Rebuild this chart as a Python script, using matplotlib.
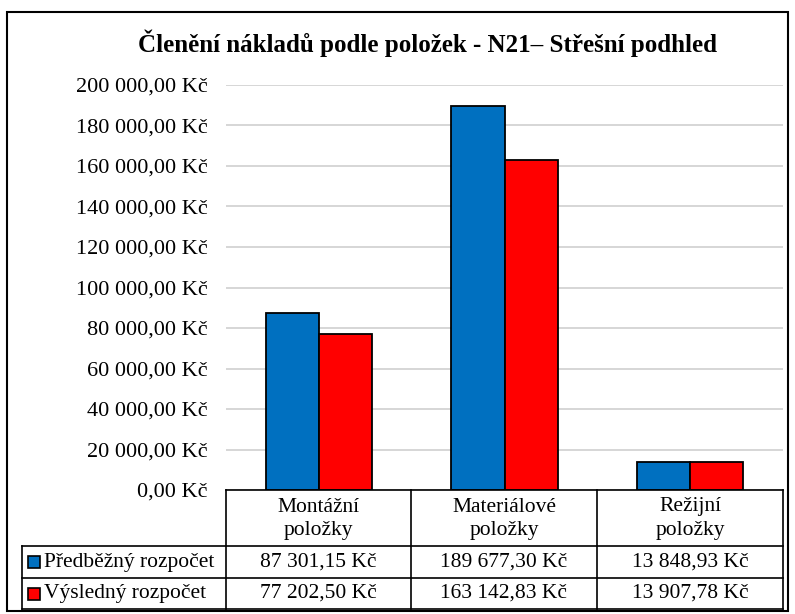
import matplotlib.pyplot as plt
import numpy as np
from matplotlib.patches import Rectangle
from matplotlib.lines import Line2D

plt.rcParams['font.family'] = ['Liberation Serif', 'DejaVu Serif']

categories = ['Montážní\npoložky', 'Materiálové\npoložky', 'Režijní\npoložky']
series_names = ['Předběžný rozpočet', 'Výsledný rozpočet']
predbezny = [87301.15, 189677.30, 13848.93]
vysledny = [77202.50, 163142.83, 13907.78]
colors = ['#0070C0', '#FF0000']
title = 'Členění nákladů podle položek - N21– Střešní podhled'


def kc(v):
    s = f"{v:,.2f}".replace(',', ' ').replace('.', ',')
    return s + ' Kč'


W, H = 795, 614
fig = plt.figure(figsize=(W / 100, H / 100), dpi=100)


def fx(px):
    return px / W


def fy(py):
    return 1 - py / H


# outer frame
fig.add_artist(Rectangle((fx(7), fy(611)), fx(788) - fx(7), fy(12) - fy(611),
                         transform=fig.transFigure, fill=False, ec='black', lw=1.5))

fig.text(fx(427), fy(43), title, ha='center', va='center', fontsize=18, fontweight='bold')

x_left, x_right = 226, 783
y_top, y_bot = 85, 490
ax = fig.add_axes([fx(x_left), fy(y_bot), fx(x_right) - fx(x_left), fy(y_top) - fy(y_bot)])

x = np.arange(len(categories))
w = 0.287
ax.bar(x - w / 2, predbezny, w, color=colors[0], edgecolor='black', linewidth=1.3, zorder=3)
ax.bar(x + w / 2, vysledny, w, color=colors[1], edgecolor='black', linewidth=1.3, zorder=3)
ax.set_xlim(-0.5, len(categories) - 0.5)
ax.set_ylim(0, 200000)
ticks = np.arange(0, 200001, 20000)
ax.set_yticks(ticks)
ax.set_yticklabels([kc(t) for t in ticks], fontsize=16)
ax.tick_params(axis='y', length=0, pad=13.5)
ax.set_xticks([])
ax.grid(axis='y', color='#D0D0D0', linewidth=1.2, zorder=0)
for s in ax.spines.values():
    s.set_visible(False)

# data table
col_edges = [226, 411, 597, 783]
row_edges = [490, 546, 578, 609]
leg_left = 22
lw = 1.2


def hline(y, x0, x1):
    fig.add_artist(Line2D([fx(x0), fx(x1)], [fy(y), fy(y)], transform=fig.transFigure,
                          color='black', lw=lw))


def vline(x0, y0, y1):
    fig.add_artist(Line2D([fx(x0), fx(x0)], [fy(y0), fy(y1)], transform=fig.transFigure,
                          color='black', lw=lw))


hline(row_edges[0], col_edges[0], col_edges[-1])
for y in row_edges[1:]:
    hline(y, leg_left, col_edges[-1])
for c in col_edges:
    vline(c, row_edges[0], row_edges[-1])
vline(leg_left, row_edges[1], row_edges[-1])

# header: each category on two lines
for i, cat in enumerate(categories):
    cx = (col_edges[i] + col_edges[i + 1]) / 2
    for j, part in enumerate(cat.split('\n')):
        fig.text(fx(cx), fy(507 + 23 * j), part, ha='center', va='center', fontsize=15.5)

for r, (name, vals) in enumerate(zip(series_names, [predbezny, vysledny])):
    cy = (row_edges[r + 1] + row_edges[r + 2]) / 2
    fig.add_artist(Rectangle((fx(28), fy(cy + 6)), fx(12), fy(cy - 6) - fy(cy + 6),
                             transform=fig.transFigure, fc=colors[r], ec='black', lw=1.2))
    fig.text(fx(44), fy(cy), name, ha='left', va='center', fontsize=15.5)
    for i, v in enumerate(vals):
        cx = (col_edges[i] + col_edges[i + 1]) / 2
        fig.text(fx(cx), fy(cy), kc(v), ha='center', va='center', fontsize=15.5)

fig.savefig('out.png', dpi=100)
